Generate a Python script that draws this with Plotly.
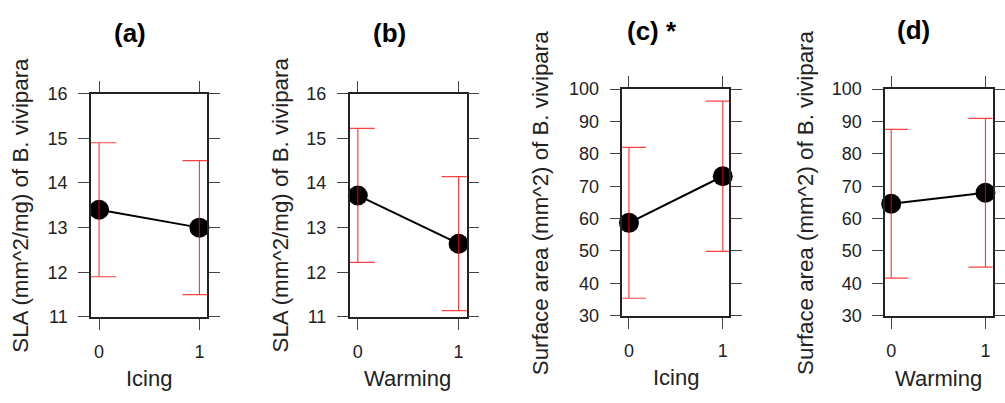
import plotly.graph_objects as go

W, H = 1005, 403

# ---- data ----
x_levels = [0, 1]
panel_titles = ["(a)", "(b)", "(c) *", "(d)"]
x_titles = ["Icing", "Warming", "Icing", "Warming"]
y_titles = ["SLA (mm^2/mg) of B. vivipara", "SLA (mm^2/mg) of B. vivipara",
            "Surface area (mm^2) of B. vivipara", "Surface area (mm^2) of B. vivipara"]
means_a = [13.4, 13.0]
err_a = [1.5, 1.5]
means_b = [13.72, 12.64]
err_b = [1.5, 1.5]
means_c = [58.7, 73.1]
err_c = [23.3, 23.2]
means_d = [64.6, 68.0]
err_d = [23.0, 23.0]
sla_ticks = [11, 12, 13, 14, 15, 16]
area_ticks = [30, 40, 50, 60, 70, 80, 90, 100]

means = [means_a, means_b, means_c, means_d]
errs = [err_a, err_b, err_c, err_d]
yranges = [[11, 16], [11, 16], [30, 100], [30, 100]]
yticks = [sla_ticks, sla_ticks, area_ticks, area_ticks]

# ---- layout geometry (pixels) ----
box_x = [(91.5, 208.5), (351.5, 469.0), (625.5, 733.0), (889.5, 997.5)]
box_y = [(88, 323), (88, 323), (83.3, 321.7), (83.3, 321.7)]
xranges = [[-0.08, 1.08], [-0.08, 1.08], [-0.07, 1.07], [-0.065, 1.075]]
title_pos = [(131, 24), (391, 24), (655, 22), (918, 21)]
ytitle_pos = [(21, 205), (282, 205), (544, 203), (810, 203)]
xtitle_pos = [(150, 388), (410, 388), (679, 387), (943, 388)]

FONT = "Liberation Sans, Arial, sans-serif"
TXT = "#222222"

fig = go.Figure()
layout = dict(
    width=W, height=H, margin=dict(l=0, r=0, t=0, b=0),
    paper_bgcolor="white", plot_bgcolor="white", showlegend=False,
    font=dict(family=FONT, color=TXT, size=18),
)
annotations = []

for i in range(4):
    sfx = "" if i == 0 else str(i + 1)
    xa, ya = "x" + sfx, "y" + sfx
    fig.add_trace(go.Scatter(
        x=x_levels, y=means[i], xaxis=xa, yaxis=ya, mode="lines+markers",
        line=dict(color="black", width=2),
        marker=dict(color="black", size=20), cliponaxis=False, hoverinfo="skip"))
    fig.add_trace(go.Scatter(
        x=x_levels, y=means[i], xaxis=xa, yaxis=ya, mode="markers",
        marker=dict(size=1, opacity=0),
        error_y=dict(type="data", array=errs[i], visible=True, color="rgba(255,0,0,0.75)",
                     thickness=1.2, width=17),
        cliponaxis=True, hoverinfo="skip"))

    x0, x1 = box_x[i]
    yt, yb = box_y[i]
    common = dict(showline=True, linecolor="#222222", linewidth=1.6, mirror="ticks",
                  ticks="outside", ticklen=11, tickwidth=1.4, tickcolor="#444444",
                  showgrid=False, zeroline=False, tickfont=dict(size=18, color=TXT, family=FONT))
    layout["xaxis" + sfx] = dict(
        domain=[x0 / W, x1 / W], range=xranges[i], anchor=ya,
        tickvals=x_levels, ticktext=[str(v) for v in x_levels], ticklabelstandoff=7, **common)
    layout["yaxis" + sfx] = dict(
        domain=[(H - yb) / H, (H - yt) / H], range=yranges[i], anchor=xa,
        tickvals=yticks[i], ticklabelstandoff=7, **common)

    tx, ty = title_pos[i]
    annotations.append(dict(text="<b>" + panel_titles[i] + "</b>", x=tx / W, y=1 - ty / H,
                            xref="paper", yref="paper", showarrow=False,
                            xanchor="center", yanchor="middle",
                            font=dict(size=26, color="black", family=FONT)))
    yx, yy = ytitle_pos[i]
    annotations.append(dict(text=y_titles[i], x=yx / W, y=1 - yy / H, xref="paper", yref="paper",
                            showarrow=False, textangle=-90, xanchor="center", yanchor="middle",
                            font=dict(size=22.3, color=TXT, family=FONT)))
    xx, xy = xtitle_pos[i]
    annotations.append(dict(text=x_titles[i], x=xx / W, y=1 - xy / H, xref="paper", yref="paper",
                            showarrow=False, xanchor="center", yanchor="middle",
                            font=dict(size=22, color=TXT, family=FONT)))

layout["annotations"] = annotations
fig.update_layout(**layout)
fig.write_html("out.html")
